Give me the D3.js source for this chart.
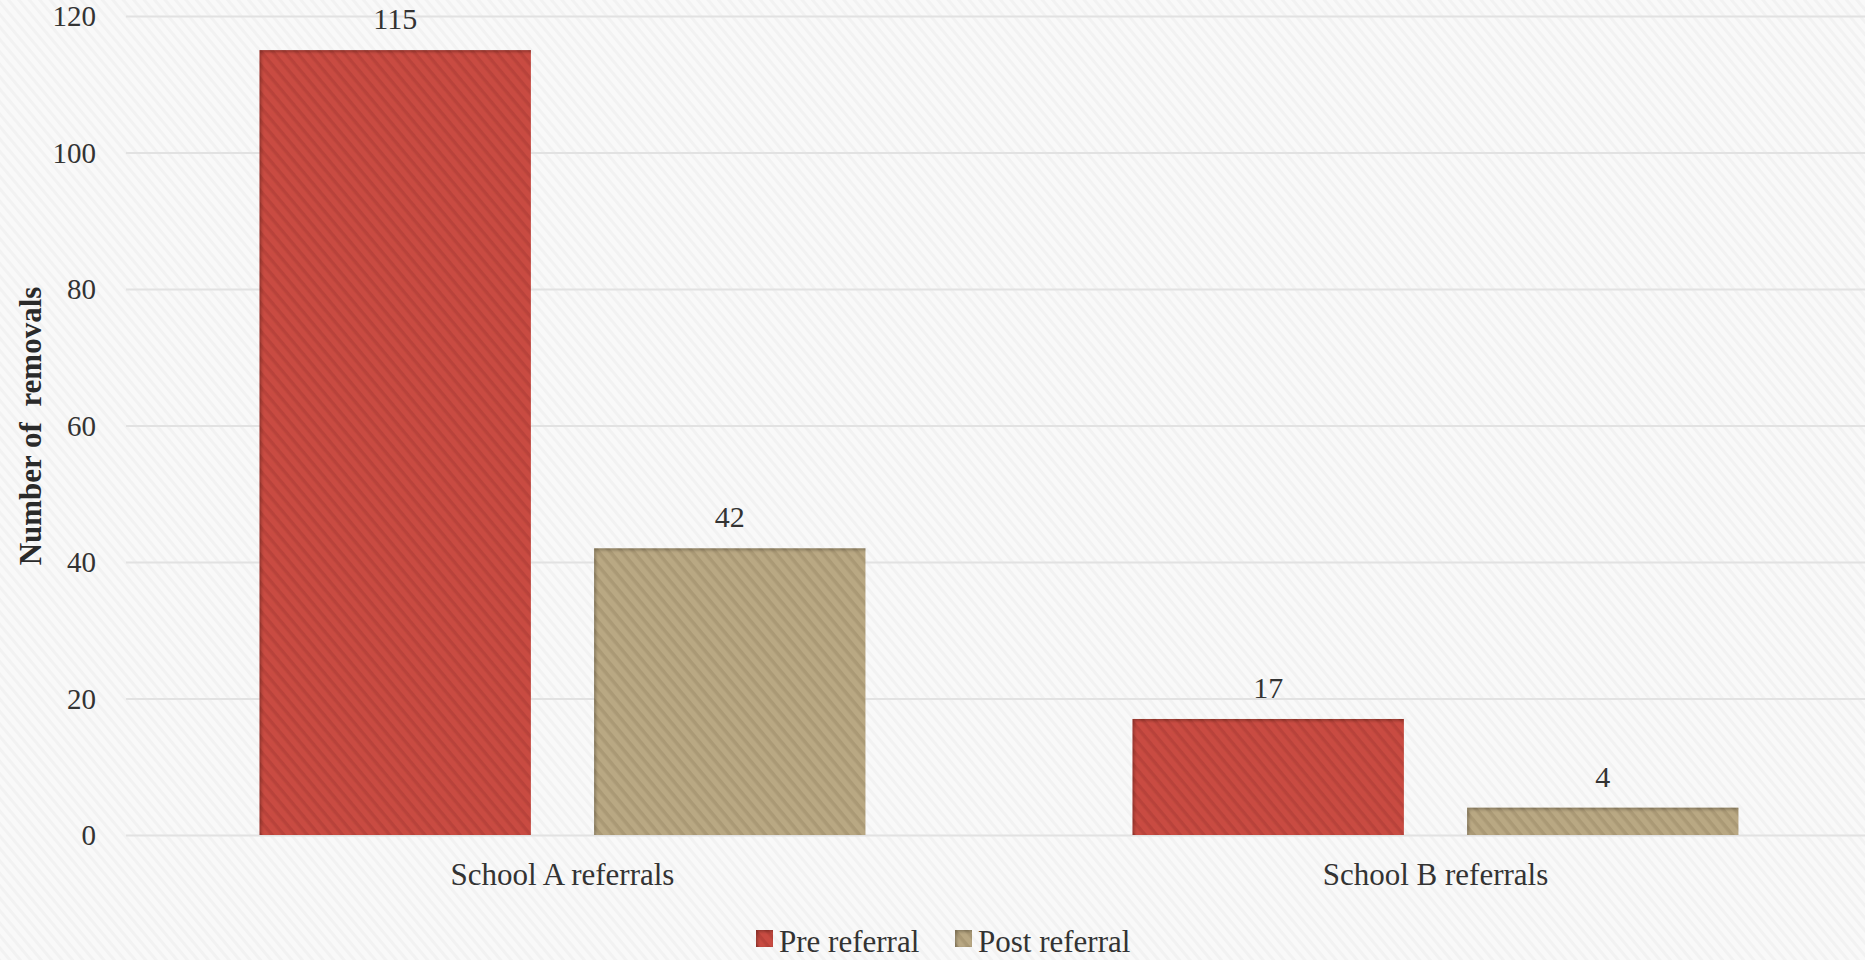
<!DOCTYPE html>
<html><head><meta charset="utf-8">
<script src="https://cdn.jsdelivr.net/npm/d3@7"></script>
<style>
html,body{margin:0;padding:0;background:#f8f8f8;}
svg{display:block;}
</style></head>
<body>
<svg id="chart" width="1865" height="960"></svg>
<script>
const categories = ["School A referrals", "School B referrals"];
const seriesNames = ["Pre referral", "Post referral"];
const preValues = [115, 17];
const postValues = [42, 4];
const yTicks = [0, 20, 40, 60, 80, 100, 120];
const yTitle = "Number of  removals";
const seriesColors = ["#c94c42", "#b9a883"];
const stripeColors = ["#b9433a", "#aa9975"];

const W = 1865, H = 960;
const svg = d3.select("#chart");
const defs = svg.append("defs");

// background texture
const bgp = defs.append("pattern").attr("id","bg").attr("patternUnits","userSpaceOnUse")
  .attr("width",8).attr("height",8).attr("patternTransform","rotate(50)");
bgp.append("rect").attr("width",8).attr("height",8).attr("fill","#f9f9f9");
bgp.append("rect").attr("width",8).attr("height",3).attr("fill","#f2f2f2");
svg.append("rect").attr("width",W).attr("height",H).attr("fill","url(#bg)");

seriesColors.forEach((c,i)=>{
  const p = defs.append("pattern").attr("id","bp"+i).attr("patternUnits","userSpaceOnUse")
    .attr("width",9).attr("height",9).attr("patternTransform","rotate(50)");
  p.append("rect").attr("width",9).attr("height",9).attr("fill",c);
  p.append("rect").attr("width",9).attr("height",3.5).attr("fill",stripeColors[i]);
});

const f = defs.append("filter").attr("id","inset").attr("x","-5%").attr("y","-5%").attr("width","110%").attr("height","110%");
f.append("feOffset").attr("in","SourceAlpha").attr("dx",1.5).attr("dy",2).attr("result","off");
f.append("feGaussianBlur").attr("in","off").attr("stdDeviation",1.6).attr("result","blur");
f.append("feComposite").attr("operator","out").attr("in","SourceAlpha").attr("in2","blur").attr("result","inv");
f.append("feFlood").attr("flood-color","#000").attr("flood-opacity",0.5).attr("result","col");
f.append("feComposite").attr("operator","in").attr("in","col").attr("in2","inv").attr("result","sh");
f.append("feComposite").attr("operator","over").attr("in","sh").attr("in2","SourceGraphic");

const plotLeft = 126, plotRight = 1872, gridRight = 1865;
const y = d3.scaleLinear().domain([0,120]).range([835,16]);
const x0 = d3.scaleBand().domain(categories).range([plotLeft, plotRight]).padding(0);
const bw = x0.bandwidth();
const x1 = d3.scaleBand().domain(seriesNames).range([bw*0.153, bw*(1-0.153)]).paddingInner(0.189).paddingOuter(0);

const font = "'Liberation Serif', 'Times New Roman', serif";
const textColor = "#333333";

// gridlines + ticks
const yAxis = d3.axisLeft(y).tickValues(yTicks).tickSize(-(gridRight-plotLeft)).tickPadding(30).tickFormat(d3.format("d"));
const ga = svg.append("g").attr("transform",`translate(${plotLeft},0)`).call(yAxis);
ga.select(".domain").remove();
ga.selectAll(".tick line").attr("stroke","#e2e2e2").attr("stroke-width",2);
ga.selectAll(".tick text").attr("font-family",font).attr("font-size",29).attr("fill",textColor).attr("dy","0.33em");

// bars
const data = categories.map((c,i)=>({cat:c, vals:[preValues[i], postValues[i]]}));
const groups = svg.selectAll("g.grp").data(data).join("g").attr("class","grp")
  .attr("transform",d=>`translate(${x0(d.cat)},0)`);
groups.selectAll("rect").data(d=>d.vals.map((v,i)=>({v, s:seriesNames[i], i})))
  .join("rect")
  .attr("x",d=>x1(d.s)).attr("width",x1.bandwidth())
  .attr("y",d=>y(d.v)).attr("height",d=>y(0)-y(d.v))
  .attr("fill",d=>`url(#bp${d.i})`).attr("filter","url(#inset)");
groups.selectAll("text.val").data(d=>d.vals.map((v,i)=>({v, s:seriesNames[i]})))
  .join("text").attr("class","val")
  .attr("x",d=>x1(d.s)+x1.bandwidth()/2).attr("y",d=>y(d.v)-21)
  .attr("text-anchor","middle").attr("font-family",font).attr("font-size",30).attr("fill",textColor)
  .text(d=>d.v);

// x axis labels
const xAxis = d3.axisBottom(x0).tickSize(0).tickPadding(0);
const gx = svg.append("g").attr("transform",`translate(0,${y(0)})`).call(xAxis);
gx.select(".domain").remove();
gx.selectAll(".tick text").attr("font-family",font).attr("font-size",31).attr("fill",textColor)
  .attr("dy",null).attr("y",50);

// y title
svg.append("text").attr("transform","translate(41,426) rotate(-90)")
  .attr("text-anchor","middle").attr("font-family",font).attr("font-weight","bold")
  .attr("font-size",31).attr("fill","#2a2a2a").style("white-space","pre").text(yTitle);

// legend
const legendX = [756, 955];
const lg = svg.append("g");
seriesNames.forEach((s,i)=>{
  lg.append("rect").attr("x",legendX[i]).attr("y",930).attr("width",17).attr("height",17)
    .attr("fill",`url(#bp${i})`).attr("filter","url(#inset)");
  lg.append("text").attr("x",legendX[i]+23).attr("y",952).attr("font-family",font).attr("font-size",31)
    .attr("fill",textColor).text(s);
});
</script>
</body></html>
